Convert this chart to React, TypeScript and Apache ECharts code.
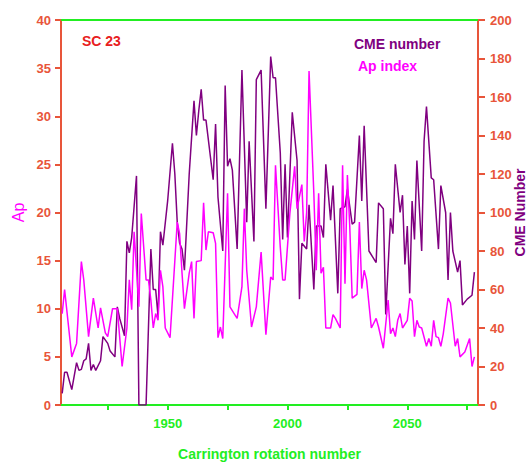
import React, { useEffect, useRef } from "react";
import * as echarts from "echarts";

// Ap index (left axis) — rotation / value pairs
const apRot = [1906, 1907, 1910, 1912, 1914, 1915, 1917, 1919, 1921, 1922, 1924, 1925, 1927, 1929, 1931, 1933, 1934, 1935, 1936, 1938, 1939, 1941, 1942, 1943, 1944, 1945, 1946, 1947, 1948, 1949, 1951, 1954, 1955, 1956, 1957, 1959, 1960, 1961, 1962, 1964, 1965, 1966, 1967, 1969, 1970, 1971, 1972, 1973, 1975, 1976, 1978, 1979, 1981, 1982, 1983, 1985, 1987, 1989, 1991, 1993, 1994, 1995, 1997, 1998, 1999, 2001, 2003, 2004, 2006, 2007, 2008, 2009, 2011, 2012, 2013, 2014, 2015, 2016, 2018, 2019, 2020, 2022, 2023, 2024, 2025, 2026, 2027, 2029, 2030, 2031, 2032, 2033, 2035, 2037, 2038, 2040, 2042, 2043, 2044, 2045, 2046, 2047, 2048, 2050, 2051, 2052, 2053, 2054, 2055, 2056, 2058, 2059, 2060, 2061, 2062, 2063, 2064, 2065, 2067, 2068, 2070, 2071, 2072, 2074, 2076, 2077, 2078];
const apVal = [9.5, 12, 5, 6.4, 14.9, 13, 7.1, 11.1, 8, 10.1, 7.5, 7.1, 10, 10, 4, 8, 13, 9.9, 18, 10.2, 19.9, 13, 13, 10.9, 8, 9.5, 8.8, 14, 12.3, 8, 7, 19, 17.8, 13.7, 10, 13.7, 14.9, 9, 14.9, 15, 21, 16.1, 18, 17.9, 16.8, 7, 8.1, 6.9, 22, 10.2, 9.4, 9, 12.3, 20.4, 14, 8.1, 10.2, 15.9, 7.3, 13.3, 13, 24.9, 16.4, 13, 13, 19.9, 24.8, 20.4, 22.9, 17, 20, 34.7, 22, 14, 22, 13.7, 14.3, 8, 8, 9.4, 9, 8, 24.9, 12.6, 23.9, 18.5, 11.1, 11.5, 19, 12.1, 14, 13, 8, 9, 8.1, 5.9, 10.9, 7.4, 8, 7.1, 8.8, 9.5, 8, 8.8, 11.1, 10.8, 7.1, 8.8, 8.1, 8, 6.1, 6.9, 6.1, 8.8, 7.1, 7, 6.1, 7.4, 11.1, 10.6, 6.1, 6.9, 5, 5.5, 6.9, 4, 5];

// CME number (right axis)
const cmeRot = [1906, 1907, 1908, 1910, 1912, 1913, 1914, 1915, 1916, 1917, 1918, 1919, 1920, 1922, 1923, 1925, 1926, 1928, 1929, 1930, 1932, 1933, 1934, 1935, 1936, 1937, 1938, 1941, 1943, 1944, 1945, 1946, 1947, 1948, 1950, 1952, 1953, 1954, 1955, 1956, 1957, 1959, 1961, 1962, 1963, 1964, 1965, 1966, 1969, 1970, 1971, 1973, 1974, 1975, 1976, 1977, 1979, 1981, 1983, 1984, 1986, 1987, 1989, 1991, 1993, 1994, 1995, 1997, 1998, 1999, 2000, 2002, 2004, 2005, 2006, 2008, 2009, 2011, 2012, 2014, 2015, 2016, 2018, 2019, 2021, 2022, 2024, 2025, 2027, 2028, 2030, 2031, 2032, 2034, 2037, 2038, 2040, 2041, 2043, 2044, 2045, 2047, 2048, 2049, 2050, 2051, 2052, 2053, 2054, 2056, 2057, 2058, 2060, 2061, 2063, 2064, 2066, 2067, 2068, 2069, 2071, 2072, 2073, 2075, 2077, 2078];
const cmeVal = [6, 17, 17, 8, 22, 18, 18.5, 23, 24, 32, 18, 21, 18, 23, 35.5, 32, 28, 25, 51, 45, 36, 85, 79, 87, 103, 119, 0, 0, 81, 60, 60, 46, 90, 83, 106, 136, 120, 95, 84, 81, 70, 120, 158, 140, 153, 164, 148, 148, 117, 146, 108, 80, 166, 124, 128, 122, 81, 174, 95, 137, 85, 169, 174, 102, 181, 170, 170, 131, 86, 125, 87, 152, 127, 55, 84, 81, 104, 60, 93, 93, 87, 125, 96, 114, 58, 102, 103, 112, 94, 95, 140, 106, 145, 80, 74, 105, 102, 47, 97, 89, 125, 100, 109, 73, 93, 58, 106, 86, 127, 80, 137, 155, 118, 117, 81, 114, 100, 65, 100, 80, 69, 75, 52, 55, 57, 69];

const xTicks = [1925, 1950, 1975, 2000, 2025, 2050, 2075];
const xLabels = [1950, 2000, 2050];

const FONT = "'Liberation Sans', Arial, sans-serif";
const GREEN = "#22ee22";
const AXISRED = "#e8553a";
const PURPLE = "#800080";
const PINK = "#ff00ff";

export default function App() {
  const ref = useRef<HTMLDivElement>(null);
  useEffect(() => {
    document.body.style.margin = "0";
    if (!ref.current) return;
    const chart = echarts.init(ref.current, null, { renderer: "svg" });
    const apData = apRot.map((r, i) => [r, apVal[i]]);
    const cmeData = cmeRot.map((r, i) => [r, cmeVal[i]]);
    const yCommon = {
      type: "value" as const,
      nameLocation: "middle" as const,
      nameRotate: 90,
      nameMoveOverlap: false,
      splitLine: { show: false },
      axisLine: { show: true, lineStyle: { color: AXISRED, width: 2 } },
      axisTick: { show: true, length: 6, lineStyle: { color: AXISRED, width: 2 } },
      axisLabel: { color: AXISRED, fontWeight: "bold" as const, fontSize: 13, fontFamily: FONT, margin: 10 },
    };
    const legendCommon = {
      orient: "vertical" as const,
      itemWidth: 0,
      itemHeight: 0,
      textStyle: { fontWeight: "bold" as const, fontSize: 14, fontFamily: FONT },
    };
    chart.setOption({
      animation: false,
      backgroundColor: "#ffffff",
      grid: { left: 61, right: 51, top: 20, bottom: 58, containLabel: false, outerBoundsMode: "none" },
      legend: [
        { ...legendCommon, left: 343, top: 32, data: [{ name: "CME number", textStyle: { color: PURPLE } }] },
        { ...legendCommon, left: 347, top: 54, data: [{ name: "Ap index", textStyle: { color: PINK } }] },
      ],
      graphic: [
        {
          type: "text",
          left: 82,
          top: 34,
          style: { text: "SC 23", fill: "#e82020", font: `bold 14px ${FONT}` },
        },
      ],
      xAxis: [
        {
          type: "value",
          min: 1905.5,
          max: 2079.5,
          name: "Carrington rotation number",
          nameLocation: "middle",
          nameGap: 42,
          nameTextStyle: { color: GREEN, fontWeight: "bold", fontSize: 14, fontFamily: FONT },
          splitLine: { show: false },
          axisLine: { show: true, onZero: false, lineStyle: { color: GREEN, width: 2 } },
          axisTick: { show: true, length: 5, customValues: xTicks, lineStyle: { color: GREEN, width: 2 } },
          axisLabel: {
            customValues: xLabels,
            formatter: (v: number) => String(v),
            color: GREEN,
            fontWeight: "bold",
            fontSize: 13,
            fontFamily: FONT,
            margin: 12,
          },
        },
        {
          type: "value",
          position: "top",
          min: 1905.5,
          max: 2079.5,
          splitLine: { show: false },
          axisLine: { show: true, onZero: false, lineStyle: { color: GREEN, width: 2 } },
          axisTick: { show: false },
          axisLabel: { show: false },
        },
      ],
      yAxis: [
        {
          ...yCommon,
          min: 0,
          max: 40,
          interval: 5,
          position: "left",
          name: "Ap",
          nameGap: 35,
          nameTextStyle: { color: PINK, fontSize: 16, fontFamily: FONT },
        },
        {
          ...yCommon,
          min: 0,
          max: 200,
          interval: 20,
          position: "right",
          name: "CME Number",
          nameGap: 35,
          nameTextStyle: { color: PURPLE, fontWeight: "bold", fontSize: 14, fontFamily: FONT },
          axisLabel: { ...yCommon.axisLabel, margin: 12 },
          axisTick: { ...yCommon.axisTick, length: 7 },
        },
      ],
      series: [
        {
          name: "CME number",
          type: "line",
          yAxisIndex: 1,
          data: cmeData,
          showSymbol: false,
          lineStyle: { color: PURPLE, width: 1.5 },
          itemStyle: { color: PURPLE },
        },
        {
          name: "Ap index",
          type: "line",
          yAxisIndex: 0,
          data: apData,
          showSymbol: false,
          lineStyle: { color: PINK, width: 1.5 },
          itemStyle: { color: PINK },
        },
      ],
    });
    return () => chart.dispose();
  }, []);
  return <div ref={ref} style={{ width: 529, height: 463 }} />;
}
